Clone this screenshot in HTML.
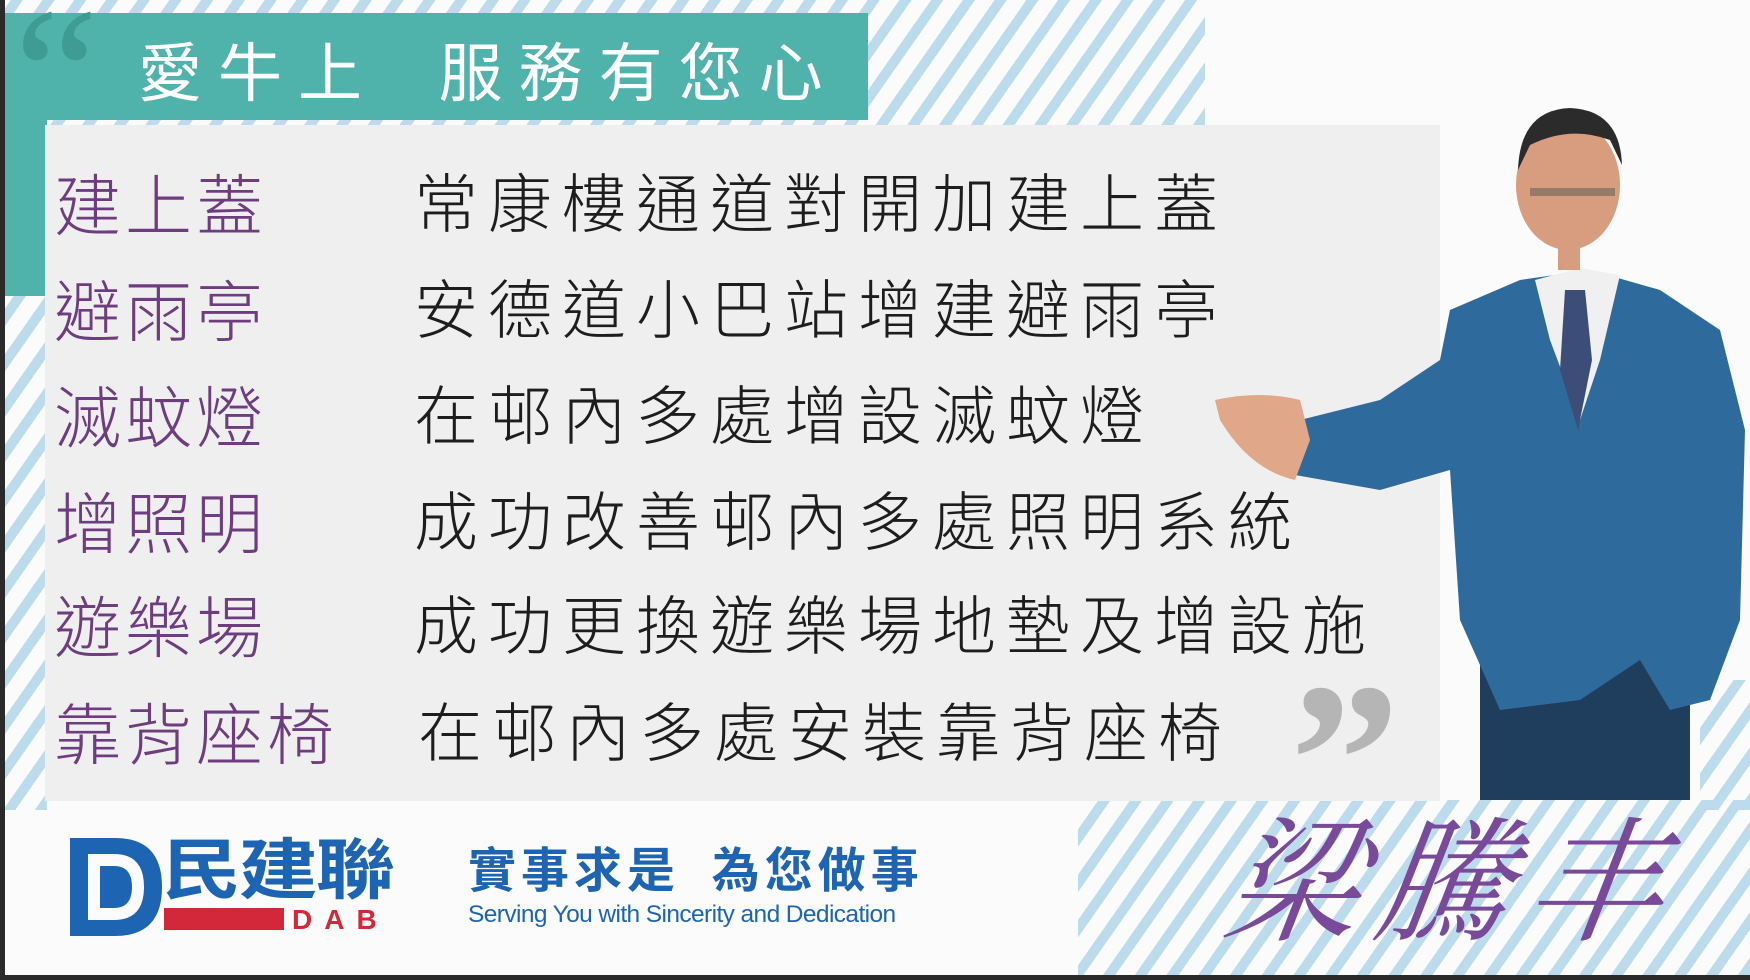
<!DOCTYPE html>
<html><head><meta charset="utf-8">
<style>
html,body{margin:0;padding:0}
body{width:1750px;height:980px;position:relative;overflow:hidden;background:#fbfbfb;font-family:"Liberation Sans","Noto Sans CJK TC",sans-serif}
.a{position:absolute}
.stripe{background:repeating-linear-gradient(-55deg,#bcdcee 0 10px,rgba(255,255,255,0) 10px 26px)}
.lbl{position:absolute;left:54px;font-size:67px;color:#6e3d80;letter-spacing:4px;line-height:1;font-family:"Noto Sans CJK TC",sans-serif;font-weight:300}
.txt{position:absolute;left:414px;font-size:64px;color:#1d1d1d;letter-spacing:10px;line-height:1;font-family:"Noto Sans CJK TC",sans-serif;font-weight:300}
</style></head>
<body>
<div class="a" style="left:0;top:0;width:5px;height:980px;background:#2a2a2a"></div>
<div class="a" style="left:0;top:975px;width:1750px;height:5px;background:#2a2a2a"></div>
<div class="a stripe" style="left:5px;top:0;width:1200px;height:125px"></div>
<div class="a stripe" style="left:5px;top:290px;width:42px;height:520px"></div>
<div class="a stripe" style="left:1078px;top:800px;width:672px;height:175px"></div>
<div class="a stripe" style="left:1700px;top:680px;width:50px;height:130px"></div>
<div class="a" style="left:5px;top:13px;width:863px;height:107px;background:#4fb2ab"></div>
<div class="a" style="left:5px;top:13px;width:42px;height:283px;background:#4fb2ab"></div>
<div class="a" style="left:14px;top:-20px;font-size:190px;color:#3f9c94;font-family:'Liberation Serif',serif;line-height:1">“</div>
<div class="a" style="left:138px;top:37px;font-size:64px;color:#fff;letter-spacing:16px;line-height:1;font-family:'Noto Sans CJK TC',sans-serif;font-weight:400">愛牛上&nbsp;&nbsp;服務有您心</div>
<div class="a" style="left:45px;top:125px;width:1395px;height:676px;background:#efeff0"></div>

<div class="lbl" style="top:168px">建上蓋</div>
<div class="txt" style="top:168px">常康樓通道對開加建上蓋</div>
<div class="lbl" style="top:274px">避雨亭</div>
<div class="txt" style="top:274px">安德道小巴站增建避雨亭</div>
<div class="lbl" style="top:380px">滅蚊燈</div>
<div class="txt" style="top:380px">在邨內多處增設滅蚊燈</div>
<div class="lbl" style="top:486px">增照明</div>
<div class="txt" style="top:486px">成功改善邨內多處照明系統</div>
<div class="lbl" style="top:590px">遊樂場</div>
<div class="txt" style="top:590px">成功更換遊樂場地墊及增設施</div>
<div class="lbl" style="top:697px">靠背座椅</div>
<div class="txt" style="top:697px;left:418px">在邨內多處安裝靠背座椅</div>

<div class="a" style="left:1290px;top:650px;font-size:220px;color:#b5b5b5;font-family:'Liberation Serif',serif;line-height:1;font-weight:bold">”</div>

<svg class="a" style="left:1200px;top:100px" width="550" height="700" viewBox="0 0 550 700">
  <rect x="280" y="540" width="210" height="160" fill="#1f3e5e"/>
  <path d="M250 210 L320 180 L390 170 L460 190 L520 230 L545 330 L540 520 L510 600 L470 610 L440 560 L380 600 L300 610 L260 520 L250 370 L180 390 L95 375 L100 320 L180 300 L240 260 Z" fill="#2f6a9c"/>
  <path d="M335 180 L380 168 L420 175 L400 260 L380 320 L350 240 Z" fill="#f0f0f0"/>
  <path d="M365 190 L385 190 L392 260 L378 330 L360 270 Z" fill="#3c4e78"/>
  <path d="M15 300 Q60 290 100 300 L110 340 L95 380 Q50 370 20 320 Z" fill="#e0a888"/>
  <ellipse cx="368" cy="85" rx="52" ry="65" fill="#d89c7e"/>
  <path d="M318 70 Q320 10 370 8 Q420 10 422 65 L410 40 Q370 25 330 45 Z" fill="#2b2b2b"/>
  <rect x="330" y="88" width="85" height="8" fill="#555" opacity="0.5"/>
  <rect x="358" y="140" width="22" height="30" fill="#d89c7e"/>
</svg>

<div class="a" style="left:70px;top:838px;width:320px;height:98px">
  <svg class="a" style="left:0;top:0" width="95" height="98" viewBox="0 0 95 98">
    <path d="M0 0 H45 Q92 0 92 49 Q92 98 45 98 H0 Z M18 16 V82 H44 Q74 82 74 49 Q74 16 44 16 Z" fill="#1d64b3"/>
    <path d="M30 28 V70 H44 Q62 70 62 49 Q62 28 44 28 Z" fill="#1d64b3"/>
  </svg>
  <div class="a" style="left:92px;top:-6px;font-size:66px;font-weight:bold;color:#1d64b3;letter-spacing:-2px;line-height:1;font-family:'Noto Sans CJK TC',sans-serif;transform:scaleX(1.2);transform-origin:left top">民建聯</div>
  <div class="a" style="left:94px;top:70px;width:120px;height:22px;background:#d3283a"></div>
  <div class="a" style="left:222px;top:68px;font-size:28px;font-weight:bold;color:#d3283a;letter-spacing:12px;line-height:1">DAB</div>
</div>
<div class="a" style="left:468px;top:842px;font-size:48px;color:#1d64b3;font-weight:bold;letter-spacing:5px;line-height:1;font-family:'Noto Sans CJK TC',sans-serif">實事求是&nbsp;&nbsp;為您做事</div>
<div class="a" style="left:468px;top:903px;font-size:24.5px;color:#1d64b3;letter-spacing:-0.6px;line-height:1">Serving You with Sincerity and Dedication</div>
<div class="a" style="left:1228px;top:805px;font-size:135px;color:#7a4a9a;letter-spacing:16px;line-height:1;font-family:'Noto Serif CJK SC','Noto Sans CJK TC',serif;font-style:italic;transform:skewX(-8deg)">梁騰丰</div>
</body></html>
